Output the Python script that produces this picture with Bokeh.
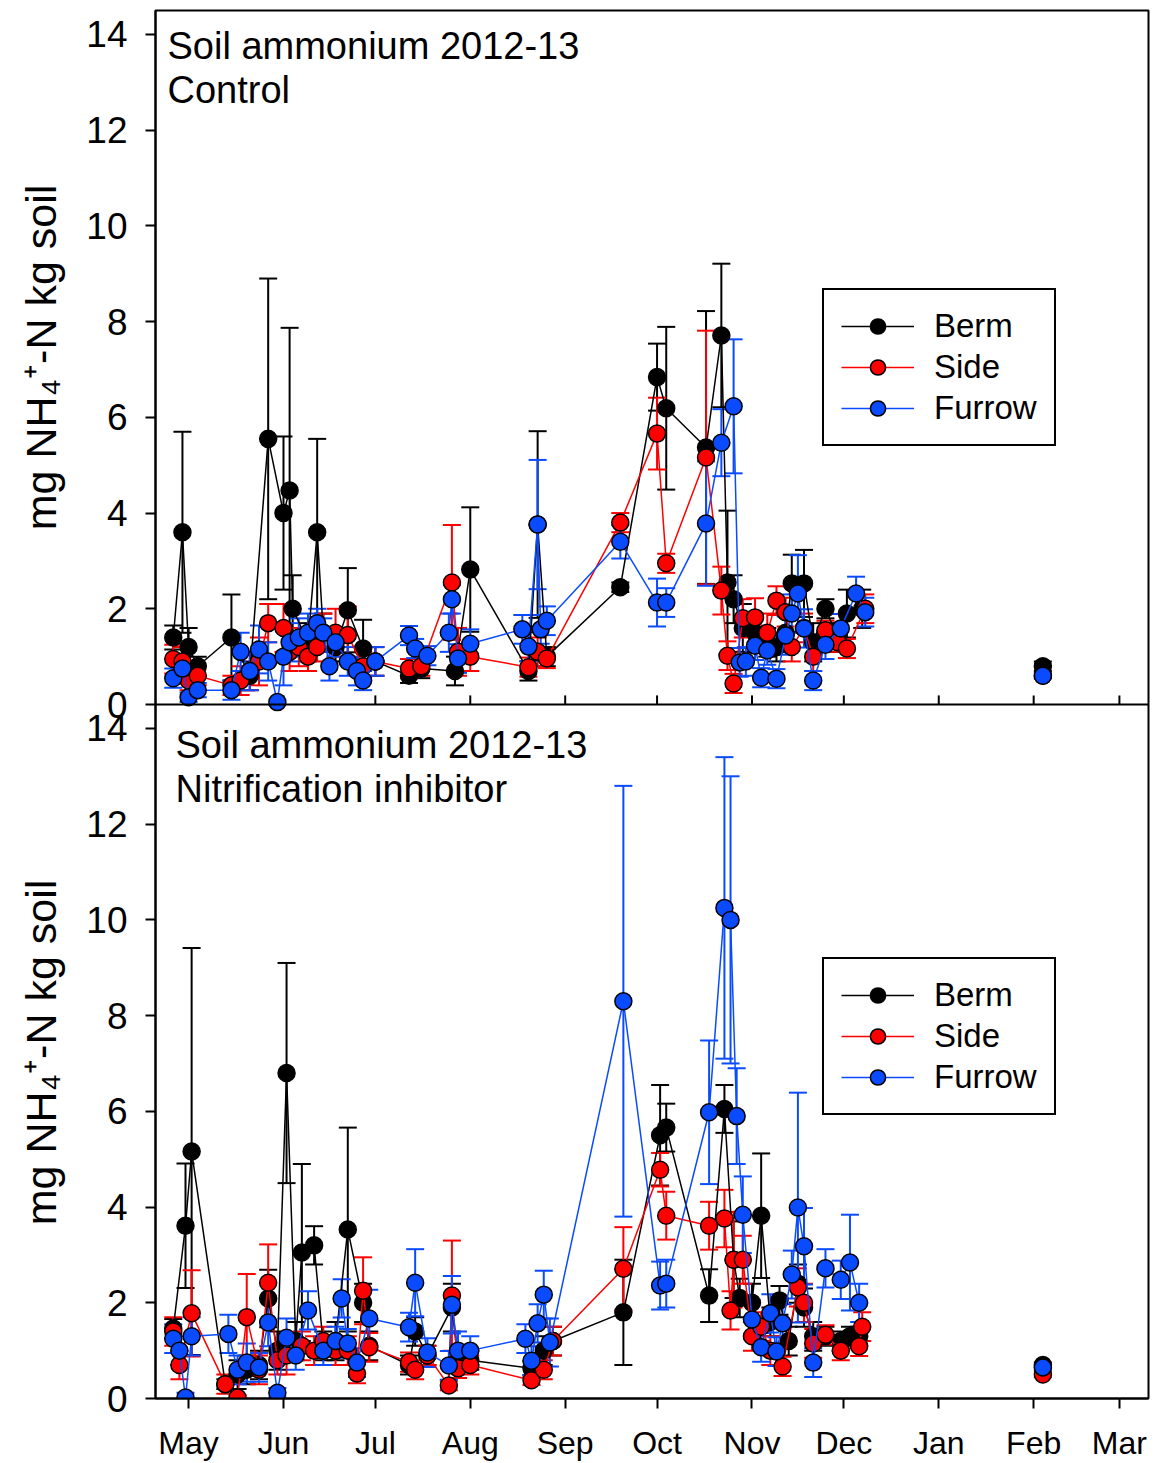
import numpy as np
import pandas as pd
from bokeh.plotting import figure
from bokeh.layouts import row
from bokeh.models import (Range1d, ColumnDataSource, Whisker, TeeHead, FixedTicker,
                          DatetimeTickFormatter, Legend, LegendItem, Label, Span)
from bokeh.core.properties import value
from bokeh.embed import file_html
from bokeh.resources import INLINE

FONT = "Liberation Sans"

# ---------------- Control panel (2012-13) ----------------
ctl_berm_dates = ["2012-04-26", "2012-04-29", "2012-05-01", "2012-05-04", "2012-05-15", "2012-05-21",
                  "2012-05-27", "2012-06-01", "2012-06-03", "2012-06-04", "2012-06-09", "2012-06-12",
                  "2012-06-14", "2012-06-18", "2012-06-22", "2012-06-27", "2012-07-01", "2012-07-12",
                  "2012-07-16", "2012-07-27", "2012-08-01", "2012-08-20", "2012-08-23", "2012-08-26",
                  "2012-09-19", "2012-10-01", "2012-10-04", "2012-10-17", "2012-10-22", "2012-10-24",
                  "2012-10-26", "2012-10-29", "2012-11-02", "2012-11-06", "2012-11-09", "2012-11-12",
                  "2012-11-14", "2012-11-18", "2012-11-21", "2012-11-25", "2012-11-29", "2012-12-02",
                  "2012-12-07", "2013-02-04"]
ctl_berm_vals = [1.4, 3.6, 1.2, 0.8, 1.4, 0.6, 5.55, 4.0, 4.47, 2.0, 1.3, 3.6, 1.5, 1.2, 1.97, 1.17,
                 0.9, 0.6, 0.75, 0.7, 2.82, 0.7, 3.76, 1.0, 2.45, 6.84, 6.19, 5.37, 7.71, 2.55, 2.2,
                 1.6, 1.5, 1.3, 1.2, 1.5, 2.53, 2.53, 1.3, 2.0, 1.4, 1.9, 2.0, 0.8]
ctl_berm_err = [0.25, 2.1, 0.4, 0.2, 0.9, 0.3, 3.35, 1.6, 3.4, 0.7, 0.4, 1.95, 0.4, 0.3, 0.88, 0.6,
                0.3, 0.15, 0.2, 0.3, 1.3, 0.2, 1.95, 0.2, 0.1, 0.7, 1.7, 2.85, 1.5, 1.5, 0.5, 0.5,
                0.4, 0.3, 0.3, 0.4, 0.6, 0.7, 0.4, 0.2, 0.3, 0.5, 0.4, 0.1]

ctl_side_dates = ["2012-04-26", "2012-04-29", "2012-05-01", "2012-05-04", "2012-05-15", "2012-05-18",
                  "2012-05-21", "2012-05-24", "2012-05-27", "2012-06-01", "2012-06-03", "2012-06-06",
                  "2012-06-09", "2012-06-12", "2012-06-14", "2012-06-18", "2012-06-22", "2012-06-27",
                  "2012-07-01", "2012-07-12", "2012-07-16", "2012-07-26", "2012-07-28", "2012-08-01",
                  "2012-08-20", "2012-08-23", "2012-08-26", "2012-09-19", "2012-10-01", "2012-10-04",
                  "2012-10-17", "2012-10-22", "2012-10-24", "2012-10-26", "2012-10-29", "2012-11-02",
                  "2012-11-06", "2012-11-09", "2012-11-12", "2012-11-14", "2012-11-18", "2012-11-21",
                  "2012-11-25", "2012-11-29", "2012-12-02", "2012-12-08", "2013-02-04"]
ctl_side_vals = [0.95, 0.9, 0.5, 0.6, 0.4, 0.5, 0.7, 0.9, 1.7, 1.6, 1.1, 1.2, 1.0, 1.2, 1.5, 1.5,
                 1.45, 0.8, 0.9, 0.75, 0.8, 2.55, 1.1, 1.0, 0.78, 1.1, 0.96, 3.8, 5.66, 2.95, 5.16,
                 2.38, 1.02, 0.44, 1.8, 1.82, 1.5, 2.17, 1.93, 1.2, 1.6, 1.0, 1.55, 1.3, 1.17, 2.0, 0.6]
ctl_side_err = [0.3, 0.3, 0.2, 0.2, 0.2, 0.3, 0.4, 0.5, 0.4, 0.5, 0.4, 0.4, 0.3, 0.3, 0.4, 0.5,
                0.6, 0.3, 0.3, 0.2, 0.2, 1.2, 0.5, 0.3, 0.2, 0.3, 0.2, 0.2, 0.75, 0.2, 2.65, 0.5,
                0.3, 0.2, 0.4, 0.4, 0.4, 0.3, 0.3, 0.3, 0.3, 0.3, 0.2, 0.2, 0.2, 0.3, 0.05]

ctl_furrow_dates = ["2012-04-26", "2012-04-29", "2012-05-01", "2012-05-04", "2012-05-15", "2012-05-18",
                    "2012-05-21", "2012-05-24", "2012-05-27", "2012-05-30", "2012-06-01", "2012-06-03",
                    "2012-06-06", "2012-06-09", "2012-06-12", "2012-06-14", "2012-06-16", "2012-06-18",
                    "2012-06-22", "2012-06-25", "2012-06-27", "2012-07-01", "2012-07-12", "2012-07-14",
                    "2012-07-18", "2012-07-25", "2012-07-26", "2012-07-28", "2012-08-01", "2012-08-18",
                    "2012-08-20", "2012-08-23", "2012-08-24", "2012-08-26", "2012-09-19", "2012-10-01",
                    "2012-10-04", "2012-10-17", "2012-10-22", "2012-10-26", "2012-10-28", "2012-10-30",
                    "2012-11-02", "2012-11-04", "2012-11-06", "2012-11-09", "2012-11-12", "2012-11-14",
                    "2012-11-16", "2012-11-18", "2012-11-21", "2012-11-25", "2012-11-30", "2012-12-05",
                    "2012-12-08", "2013-02-04"]
ctl_furrow_vals = [0.55, 0.75, 0.15, 0.3, 0.3, 1.1, 0.7, 1.15, 0.9, 0.05, 1.0, 1.3, 1.4, 1.5, 1.7,
                   1.5, 0.8, 1.3, 0.9, 0.7, 0.5, 0.9, 1.44, 1.17, 1.02, 1.5, 2.2, 0.96, 1.27, 1.57,
                   1.21, 3.76, 1.57, 1.75, 3.4, 2.13, 2.13, 3.78, 5.47, 6.23, 0.88, 0.9, 1.23, 0.56,
                   1.13, 0.54, 1.44, 1.9, 2.32, 1.59, 0.5, 1.25, 1.59, 2.32, 1.93, 0.6]
ctl_furrow_err = [0.2, 0.3, 0.1, 0.15, 0.2, 0.4, 0.4, 0.5, 0.4, 0.05, 0.6, 0.4, 0.4, 0.4, 0.3,
                  0.3, 0.3, 0.3, 0.3, 0.3, 0.2, 0.3, 0.2, 0.2, 0.2, 0.4, 0.3, 0.3, 0.3, 0.3,
                  0.3, 1.35, 0.3, 0.3, 0.35, 0.5, 0.3, 1.3, 0.7, 1.4, 0.3, 0.3, 0.3, 0.2,
                  0.3, 0.2, 0.4, 0.4, 0.8, 0.4, 0.2, 0.3, 0.3, 0.35, 0.3, 0.05]

# ---------------- Nitrification inhibitor panel ----------------
ni_berm_dates = ["2012-04-26", "2012-04-30", "2012-05-02", "2012-05-13", "2012-05-17", "2012-05-20",
                 "2012-05-24", "2012-05-27", "2012-05-30", "2012-06-02", "2012-06-05", "2012-06-07",
                 "2012-06-11", "2012-06-14", "2012-06-18", "2012-06-22", "2012-06-27", "2012-06-29",
                 "2012-07-12", "2012-07-14", "2012-07-18", "2012-07-26", "2012-07-28", "2012-08-01",
                 "2012-08-21", "2012-08-25", "2012-08-28", "2012-09-20", "2012-10-02", "2012-10-04",
                 "2012-10-18", "2012-10-23", "2012-10-26", "2012-10-28", "2012-11-01", "2012-11-04",
                 "2012-11-07", "2012-11-10", "2012-11-13", "2012-11-16", "2012-11-18", "2012-11-21",
                 "2012-11-25", "2012-11-30", "2012-12-03", "2012-12-06", "2013-02-04"]
ni_berm_vals = [1.46, 3.61, 5.16, 0.3, 0.5, 0.6, 0.7, 2.09, 1.0, 6.8, 1.2, 3.05, 3.2, 1.1, 1.2, 3.53,
                2.0, 1.1, 0.7, 1.4, 0.9, 1.9, 0.8, 0.8, 0.63, 1.0, 1.2, 1.8, 5.5, 5.66, 2.15, 6.05,
                2.9, 2.1, 2.0, 3.82, 1.6, 2.05, 1.2, 2.4, 1.9, 1.3, 1.3, 1.2, 1.3, 1.3, 0.7]
ni_berm_err = [0.2, 1.3, 4.25, 0.1, 0.3, 0.3, 0.3, 0.6, 0.4, 2.3, 0.4, 1.85, 0.4, 0.3, 0.4, 2.13,
               0.4, 0.3, 0.2, 0.3, 0.2, 0.5, 0.2, 0.2, 0.15, 0.3, 0.3, 1.1, 1.05, 0.5, 0.55, 0.5,
               0.8, 0.4, 0.4, 1.3, 0.3, 0.3, 0.3, 0.4, 0.4, 0.3, 0.2, 0.2, 0.2, 0.2, 0.05]

ni_side_dates = ["2012-04-26", "2012-04-28", "2012-05-02", "2012-05-13", "2012-05-17", "2012-05-20",
                 "2012-05-24", "2012-05-27", "2012-05-30", "2012-06-02", "2012-06-07", "2012-06-11",
                 "2012-06-14", "2012-06-18", "2012-06-22", "2012-06-25", "2012-06-27", "2012-06-29",
                 "2012-07-12", "2012-07-14", "2012-07-18", "2012-07-25", "2012-07-26", "2012-07-28",
                 "2012-08-01", "2012-08-21", "2012-08-25", "2012-08-28", "2012-09-20", "2012-10-02",
                 "2012-10-04", "2012-10-18", "2012-10-23", "2012-10-25", "2012-10-26", "2012-10-29",
                 "2012-11-01", "2012-11-04", "2012-11-07", "2012-11-11", "2012-11-16", "2012-11-18",
                 "2012-11-21", "2012-11-25", "2012-11-30", "2012-12-06", "2012-12-07", "2013-02-04"]
ni_side_vals = [1.4, 0.7, 1.78, 0.3, 0.02, 1.7, 0.6, 2.42, 0.8, 0.9, 1.1, 1.0, 1.2, 1.0, 1.0, 0.52,
                2.25, 1.07, 0.76, 0.6, 0.9, 0.27, 2.15, 0.63, 0.7, 0.38, 0.6, 1.2, 2.71, 4.78, 3.82,
                3.61, 3.76, 1.84, 2.9, 2.9, 1.3, 1.5, 1.0, 0.67, 2.32, 2.0, 1.15, 1.33, 1.0, 1.09,
                1.5, 0.5]
ni_side_err = [0.3, 0.3, 0.9, 0.2, 0.05, 0.9, 0.3, 0.8, 0.3, 0.4, 0.3, 0.3, 0.3, 0.3, 0.3, 0.2,
               0.7, 0.3, 0.2, 0.2, 0.2, 0.1, 1.15, 0.2, 0.2, 0.1, 0.2, 0.3, 0.87, 0.35, 0.5, 0.5,
               0.6, 0.4, 1.0, 0.5, 0.3, 0.3, 0.3, 0.2, 0.4, 0.4, 0.3, 0.2, 0.2, 0.2, 0.3, 0.05]

ni_furrow_dates = ["2012-04-26", "2012-04-28", "2012-04-30", "2012-05-02", "2012-05-14", "2012-05-17",
                   "2012-05-20", "2012-05-24", "2012-05-27", "2012-05-30", "2012-06-02", "2012-06-05",
                   "2012-06-09", "2012-06-14", "2012-06-18", "2012-06-20", "2012-06-22", "2012-06-25",
                   "2012-06-29", "2012-07-12", "2012-07-14", "2012-07-18", "2012-07-25", "2012-07-26",
                   "2012-07-28", "2012-08-01", "2012-08-19", "2012-08-21", "2012-08-23", "2012-08-25",
                   "2012-08-27", "2012-09-20", "2012-10-02", "2012-10-04", "2012-10-18", "2012-10-23",
                   "2012-10-25", "2012-10-27", "2012-10-29", "2012-11-01", "2012-11-04", "2012-11-07",
                   "2012-11-09", "2012-11-11", "2012-11-14", "2012-11-16", "2012-11-18", "2012-11-21",
                   "2012-11-25", "2012-11-30", "2012-12-03", "2012-12-06", "2013-02-04"]
ni_furrow_vals = [1.25, 1.0, 0.02, 1.3, 1.35, 0.6, 0.75, 0.65, 1.59, 0.12, 1.27, 0.9, 1.84, 1.0, 1.2,
                  2.09, 1.15, 0.75, 1.67, 1.49, 2.42, 0.96, 0.69, 1.96, 1.0, 1.0, 1.25, 0.79, 1.57,
                  2.17, 1.17, 8.3, 2.36, 2.4, 5.98, 10.25, 10.0, 5.9, 3.84, 1.65, 1.07, 1.78, 0.98,
                  1.57, 2.59, 3.99, 3.18, 0.75, 2.72, 2.48, 2.84, 2.0, 0.65]
ni_furrow_err = [0.3, 0.3, 0.1, 0.4, 0.4, 0.3, 0.4, 0.3, 0.5, 0.1, 0.4, 0.3, 0.4, 0.3, 0.3,
                 0.4, 0.3, 0.3, 0.6, 0.3, 0.7, 0.3, 0.3, 0.6, 0.4, 0.3, 0.3, 0.3, 0.4,
                 0.5, 0.5, 4.5, 0.5, 0.5, 1.5, 3.15, 3.0, 1.0, 0.8, 0.4, 0.3, 0.4, 0.3,
                 0.4, 0.5, 2.4, 0.8, 0.3, 0.4, 0.4, 1.0, 0.4, 0.05]

series_names = ["Berm", "Side", "Furrow"]
series_colors = ["#000000", "#ff0000", "#0a4bff"]

month_ticks = ["2012-05-01", "2012-06-01", "2012-07-01", "2012-08-01", "2012-09-01", "2012-10-01",
               "2012-11-01", "2012-12-01", "2013-01-01", "2013-02-01", "2013-03-01"]
y_ticks = [0, 2, 4, 6, 8, 10, 12, 14]

panel_titles = [("Soil ammonium 2012-13", "Control"),
                ("Soil ammonium 2012-13", "Nitrification inhibitor")]
y_label = "mg NH\u2084\u207a-N kg soil"

DAY = 86400000.0


def ms(d):
    return pd.Timestamp(d).timestamp() * 1000.0


PANEL = 14.5
month_ms = [ms(d) for d in month_ticks]
x_start = ms("2012-05-01") - 10.8 * DAY
x_end = ms("2013-03-01") + 9.5 * DAY

TOP, BOTTOM = 10, 65
LAB_W = 80

# ---- narrow strip carrying the two rotated y-axis titles ----
lab = figure(width=LAB_W, height=1463, x_range=Range1d(0, LAB_W), y_range=Range1d(0, 2 * PANEL),
             output_backend="svg", toolbar_location=None,
             min_border_left=0, min_border_right=0, min_border_top=TOP, min_border_bottom=BOTTOM)
lab.axis.visible = False
lab.grid.visible = False
lab.outline_line_color = None
lab.background_fill_color = "white"
lab.border_fill_color = "white"
lab.text(x=[40, 40], y=[PANEL + 7.25, 7.23], text=[y_label, y_label], angle=np.pi / 2,
         text_font=value(FONT), text_font_size="43px", text_color="black",
         text_align="center", text_baseline="middle")

# ---- main plot: both panels share one frame, each panel spans 14.5 units ----
p = figure(width=1156 - LAB_W, height=1463, x_axis_type="datetime",
           x_range=Range1d(x_start, x_end), y_range=Range1d(0, 2 * PANEL),
           output_backend="svg", toolbar_location=None,
           min_border_left=155 - LAB_W, min_border_right=8, min_border_top=TOP,
           min_border_bottom=BOTTOM)
p.extra_y_ranges = {"top": Range1d(-PANEL, PANEL)}
p.background_fill_color = "white"
p.border_fill_color = "white"
p.outline_line_color = "black"
p.outline_line_width = 2
p.xgrid.visible = False
p.ygrid.visible = False

p.yaxis.ticker = FixedTicker(ticks=y_ticks + [t + PANEL for t in y_ticks])
p.yaxis.major_label_overrides = {t + PANEL: str(t) for t in y_ticks}
p.yaxis.major_tick_out = 10
p.yaxis.major_tick_in = 0
p.yaxis.minor_tick_out = 0
p.yaxis.minor_tick_in = 0
p.yaxis.major_label_standoff = 18
p.yaxis.major_label_text_font = FONT
p.yaxis.major_label_text_font_size = "37px"
p.yaxis.major_label_text_color = "black"
p.yaxis.axis_line_width = 2
p.yaxis.major_tick_line_width = 2

p.xaxis.ticker = FixedTicker(ticks=month_ms)
p.xaxis.formatter = DatetimeTickFormatter(months="%b", days="%b", years="%b", hours="%b")
p.xaxis.major_tick_out = 10
p.xaxis.major_tick_in = 0
p.xaxis.minor_tick_out = 0
p.xaxis.minor_tick_in = 0
p.xaxis.major_label_standoff = 16
p.xaxis.major_label_text_font = FONT
p.xaxis.major_label_text_font_size = "32px"
p.xaxis.major_label_text_color = "black"
p.xaxis.axis_line_width = 2
p.xaxis.major_tick_line_width = 2

# boundary between the two panels and inward ticks of the upper panel's x axis
p.add_layout(Span(location=PANEL, dimension="width", line_color="black", line_width=2))
p.segment(x0=month_ms, y0=[0] * len(month_ms), x1=month_ms, y1=[0.19] * len(month_ms),
          line_color="black", line_width=2, y_range_name="top")

panels = [
    ("top", [(ctl_berm_dates, ctl_berm_vals, ctl_berm_err),
             (ctl_side_dates, ctl_side_vals, ctl_side_err),
             (ctl_furrow_dates, ctl_furrow_vals, ctl_furrow_err)]),
    ("default", [(ni_berm_dates, ni_berm_vals, ni_berm_err),
                 (ni_side_dates, ni_side_vals, ni_side_err),
                 (ni_furrow_dates, ni_furrow_vals, ni_furrow_err)]),
]

legend_locs = [(667, 952), (667, 283)]

for (yname, series), loc in zip(panels, legend_locs):
    items = []
    for name, color, (dates, vals, errs) in zip(series_names, series_colors, series):
        x = pd.to_datetime(dates)
        v = np.array(vals, dtype=float)
        e = np.array(errs, dtype=float)
        src = ColumnDataSource(dict(x=x, y=v, lo=np.maximum(v - e, 0), hi=v + e))
        w = Whisker(source=src, base="x", upper="hi", lower="lo", dimension="height",
                    line_color=color, line_width=2, y_range_name=yname,
                    upper_head=TeeHead(size=18, line_color=color, line_width=2),
                    lower_head=TeeHead(size=18, line_color=color, line_width=2))
        p.add_layout(w)
        # connecting line for the main season (the isolated February sample is not joined)
        ln = p.line(x[:-1], v[:-1], line_color=color, line_width=1.5, y_range_name=yname)
        sc = p.scatter("x", "y", source=src, size=17, marker="circle", fill_color=color,
                       line_color="black", line_width=1.5, y_range_name=yname)
        items.append(LegendItem(label=name, renderers=[ln, sc]))
    leg = Legend(items=items, location=loc, orientation="vertical",
                 label_text_font=FONT, label_text_font_size="33px", label_text_color="black",
                 glyph_width=73, glyph_height=38, label_height=38, spacing=3, padding=17,
                 label_standoff=20, margin=0, border_line_color="black", border_line_width=2,
                 border_line_alpha=1.0,
                 background_fill_color="white", background_fill_alpha=1.0)
    p.add_layout(leg)

# panel titles (screen units relative to the plot frame)
title_pos = [((12, 1353), (12, 1309)), ((20, 654), (20, 610))]
for (l1, l2), ((x1, y1), (x2, y2)) in zip(panel_titles, title_pos):
    for txt, xx, yy in [(l1, x1, y1), (l2, x2, y2)]:
        p.add_layout(Label(x=xx, y=yy, x_units="screen", y_units="screen", text=txt,
                           text_font=FONT, text_font_size="38px", text_color="black",
                           text_baseline="alphabetic", text_align="left"))

layout = row(lab, p, spacing=0)
open("out.html", "w").write(file_html(layout, INLINE))
